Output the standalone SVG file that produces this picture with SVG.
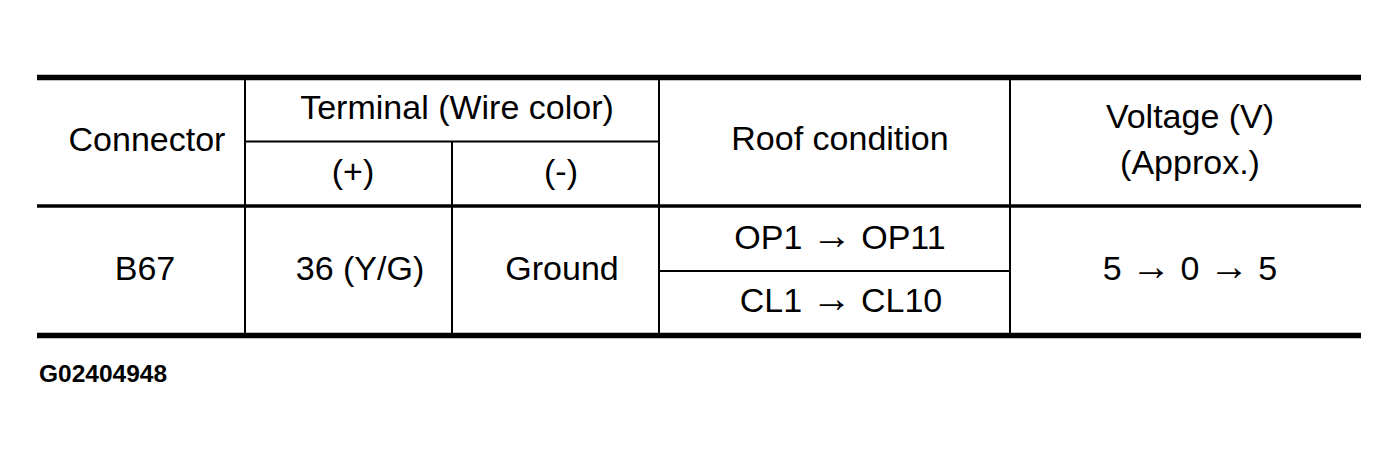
<svg xmlns="http://www.w3.org/2000/svg" width="1398" height="458" viewBox="0 0 1398 458">
<style>
  .t { font-family: "Liberation Sans", Arial, sans-serif; font-size: 34px; fill: #000; text-anchor: middle; }
  .ar { font-size: 40px; }
  .id { font-family: "Liberation Sans", Arial, sans-serif; font-size: 24.5px; font-weight: bold; fill: #000; }
  .thick { stroke: #000; stroke-width: 5.5; fill: none; }
  .mid { stroke: #000; stroke-width: 3.5; fill: none; }
  .thin { stroke: #000; stroke-width: 2; fill: none; }
</style>
<rect width="1398" height="458" fill="#fff"/>
<g id="grid">
  <line class="thick" x1="37" y1="77.5" x2="1361" y2="77.5"/>
  <line class="mid" x1="37" y1="206" x2="1361" y2="206"/>
  <line class="thick" x1="37" y1="335.5" x2="1361" y2="335.5"/>
  <line class="thin" x1="245" y1="141.5" x2="659" y2="141.5"/>
  <line class="thin" x1="659" y1="271" x2="1010" y2="271"/>
  <line class="thin" x1="245" y1="80" x2="245" y2="333"/>
  <line class="thin" x1="452" y1="141.5" x2="452" y2="333"/>
  <line class="thin" x1="659" y1="80" x2="659" y2="333"/>
  <line class="thin" x1="1010" y1="80" x2="1010" y2="333"/>
</g>
<g id="header">
  <text class="t" x="147" y="151">Connector</text>
  <text class="t" x="457" y="119">Terminal (Wire color)</text>
  <text class="t" x="353" y="183">(+)</text>
  <text class="t" x="561" y="183">(-)</text>
  <text class="t" x="840" y="150">Roof condition</text>
  <text class="t" x="1190" y="128">Voltage (V)</text>
  <text class="t" x="1190" y="174">(Approx.)</text>
</g>
<g id="row">
  <text class="t" x="145" y="280">B67</text>
  <text class="t" x="360" y="280">36 (Y/G)</text>
  <text class="t" x="562" y="280">Ground</text>
  <text class="t" x="840" y="249">OP1 <tspan class="ar">→</tspan> OP11</text>
  <text class="t" x="841" y="312">CL1 <tspan class="ar">→</tspan> CL10</text>
  <text class="t" x="1190" y="280">5 <tspan class="ar">→</tspan> 0 <tspan class="ar">→</tspan> 5</text>
</g>
<g id="figure-id">
  <text class="id" x="39" y="382">G02404948</text>
</g>
</svg>
